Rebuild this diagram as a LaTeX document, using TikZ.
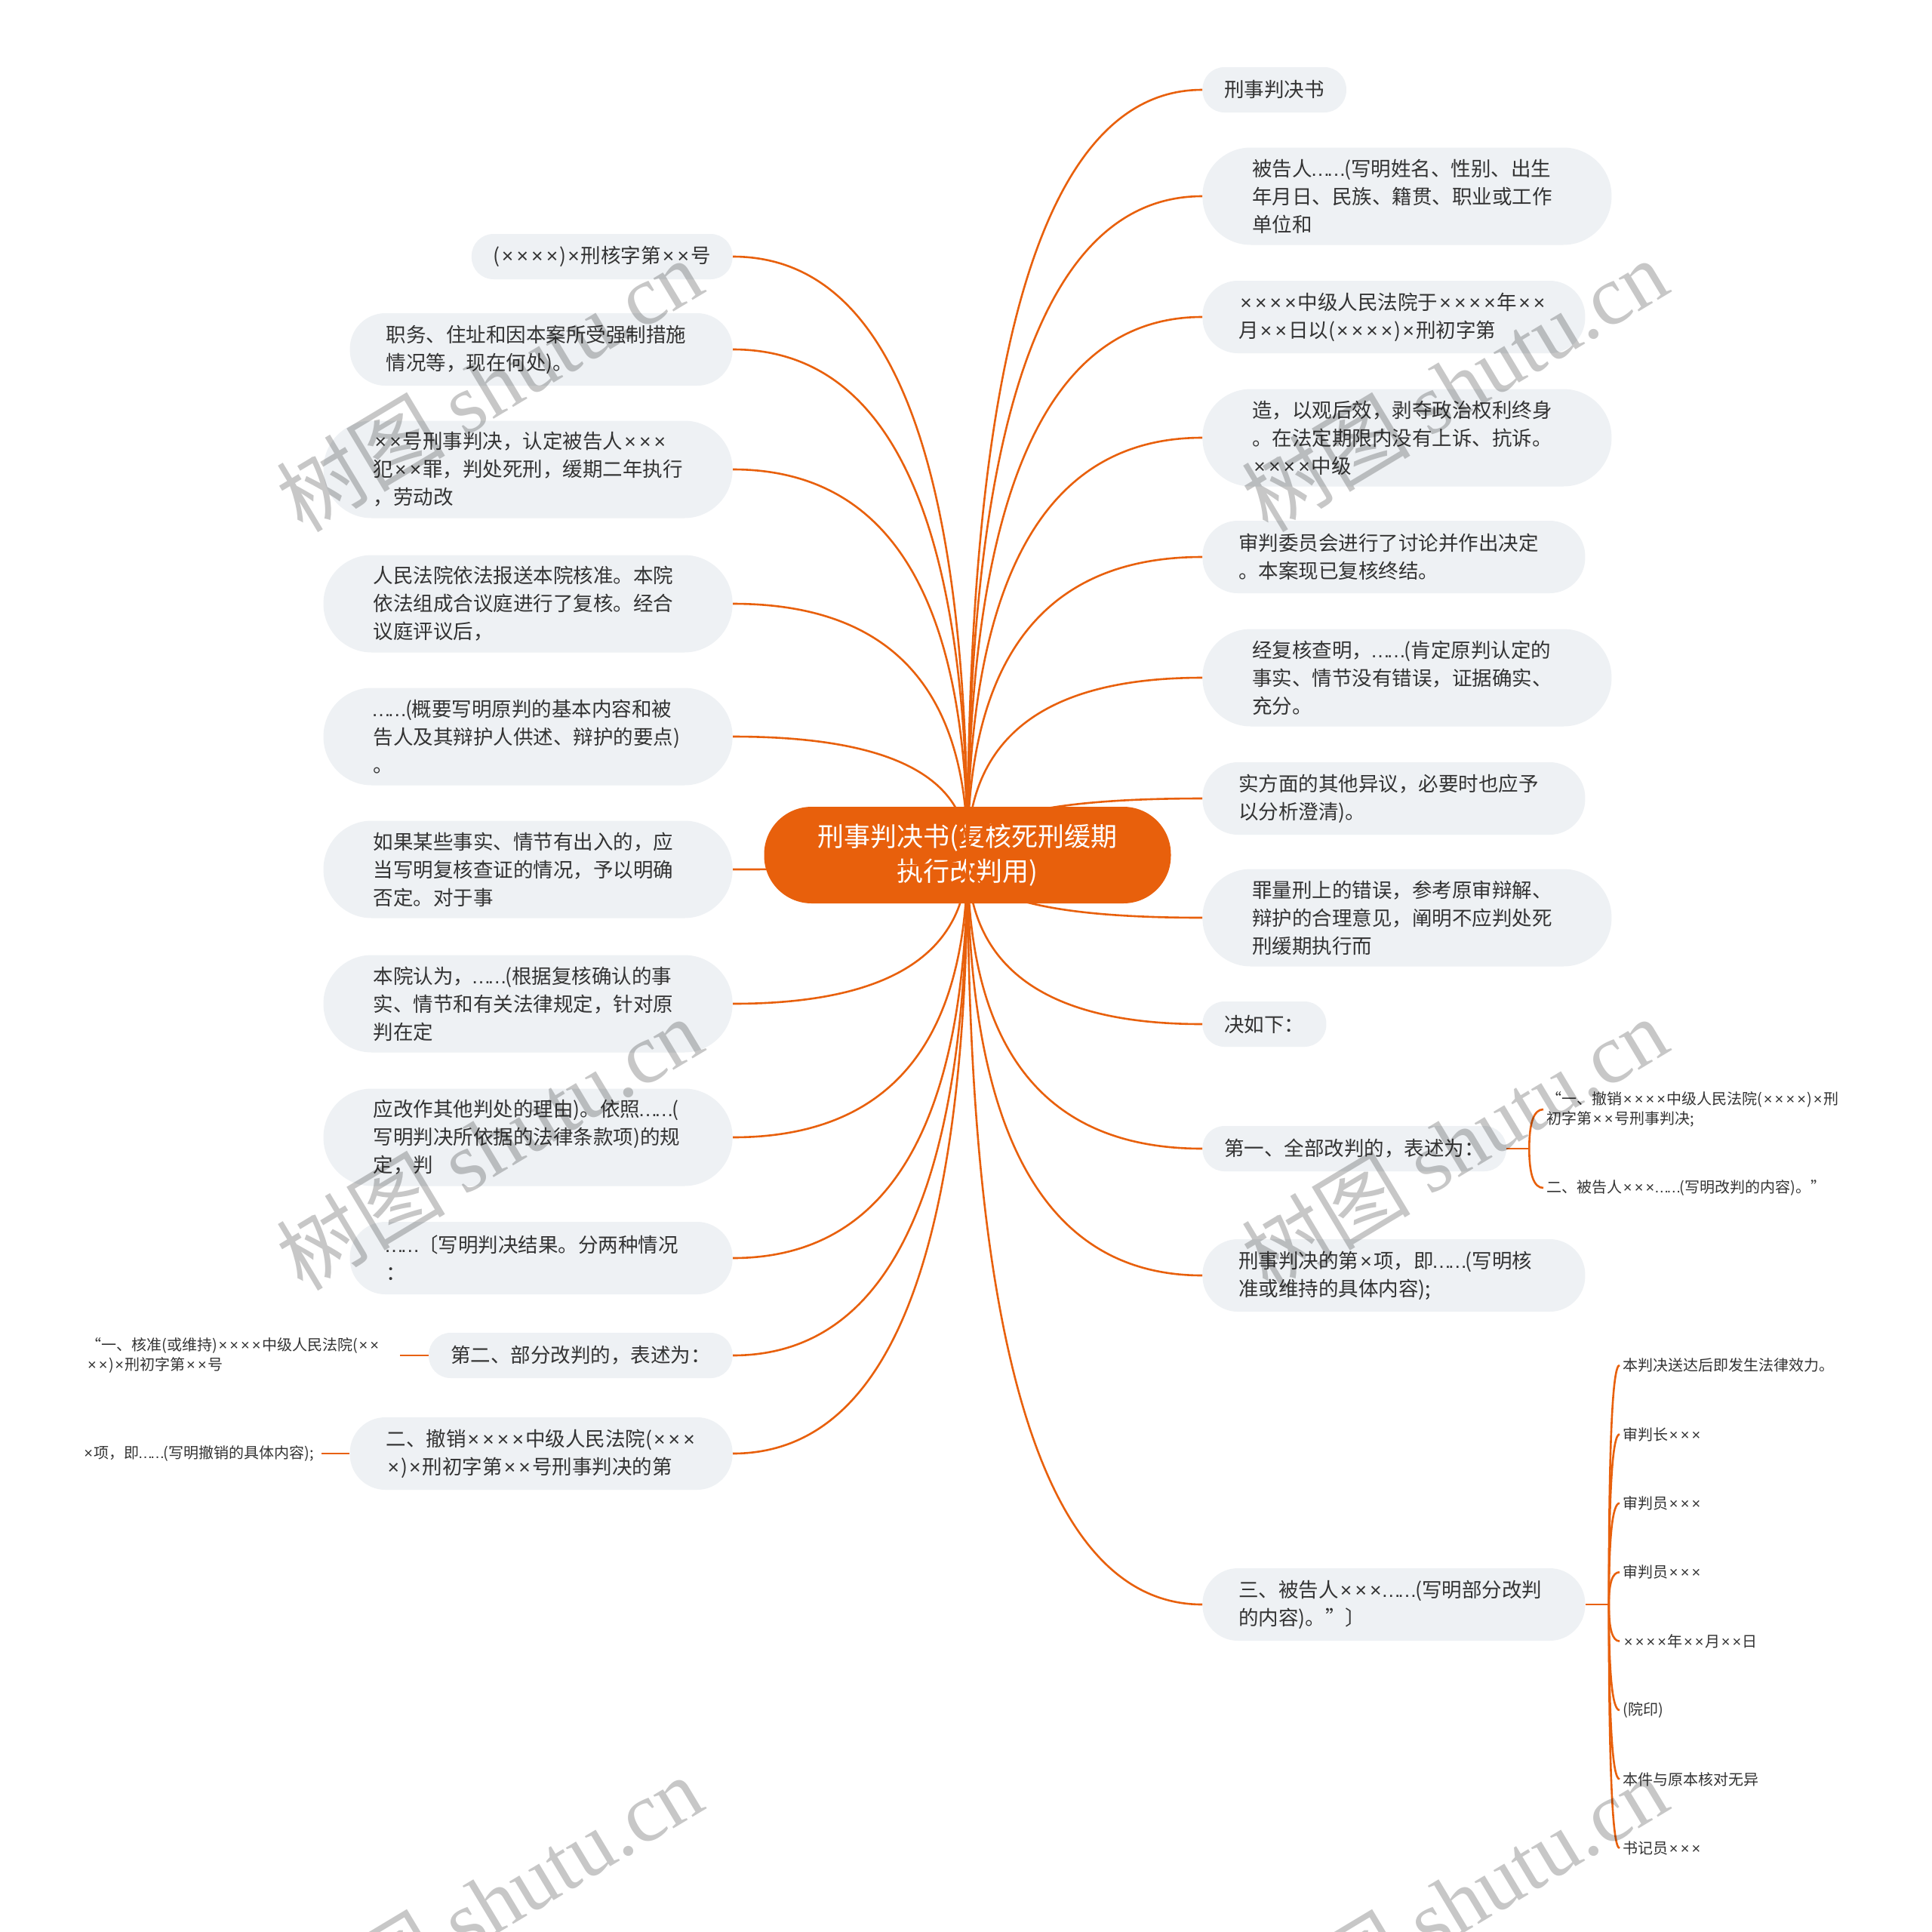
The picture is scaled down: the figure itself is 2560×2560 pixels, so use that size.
\documentclass[tikz,border=0pt]{standalone}
\usepackage{fontspec}
\setmainfont{Noto Sans CJK SC}
\newfontfamily\wmfont{Liberation Serif}
\newfontfamily\xfont{Liberation Sans}
\usepackage{newunicodechar}
\newunicodechar{×}{\makebox[0.74em]{\xfont\symbol{"D7}}}
\newunicodechar{…}{\makebox[0.8em]{\xfont\symbol{"2026}}}
\usepackage{xcolor}
\usepackage{tikz}
\usetikzlibrary{calc}
\definecolor{mainorange}{HTML}{E8600C}
\definecolor{topicfill}{HTML}{EEF1F4}
\definecolor{textgray}{HTML}{333333}

\begin{document}
\begin{tikzpicture}[x=0.5pt, y=-0.5pt,
    branch/.style={draw=mainorange, line width=1.3pt},
    root/.style={rectangle, fill=mainorange, text=white, align=center, minimum width=269.5pt, minimum height=64pt, rounded corners=31.5pt, font=\fontsize{17.5}{23}\selectfont},
    topic/.style={rectangle, fill=topicfill, text=textgray, align=left, inner ysep=0pt, font=\fontsize{13.25}{18.5}\selectfont},
    oneline/.style={topic, minimum height=30pt, rounded corners=14.5pt, inner xsep=14.5pt},
    twoline/.style={topic, minimum height=48pt, rounded corners=23.5pt, inner xsep=24pt, text width=205.5pt},
    threeline/.style={topic, minimum height=64.5pt, rounded corners=32pt, inner xsep=33pt, text width=205pt},
    leaf/.style={text=textgray, align=left, inner xsep=2pt, inner ysep=0pt, font=\fontsize{10}{13}\selectfont},
    watermark/.style={text=black, text opacity=0.22, rotate=31, font=\fontsize{56}{60}\selectfont}]
    \fill[white] (0,0) rectangle (2560,2560);
    \useasboundingbox (0,0) rectangle (2560,2560);

    \node[root] (root) at (1282,1133) {刑事判决书(复核死刑缓期\\执行改判用)};

    \node[oneline, anchor=west] (r1) at (1593,119) {刑事判决书};
    \node[threeline, anchor=west] (r2) at (1593,260) {被告人……(写明姓名、性别、出生\\年月日、民族、籍贯、职业或工作\\单位和};
    \node[twoline, anchor=west] (r3) at (1593,420) {××××中级人民法院于××××年××\\月××日以(××××)×刑初字第};
    \node[threeline, anchor=west] (r4) at (1593,580) {造，以观后效，剥夺政治权利终身\\。在法定期限内没有上诉、抗诉。\\××××中级};
    \node[twoline, anchor=west] (r5) at (1593,738) {审判委员会进行了讨论并作出决定\\。本案现已复核终结。};
    \node[threeline, anchor=west] (r6) at (1593,898) {经复核查明，……(肯定原判认定的\\事实、情节没有错误，证据确实、\\充分。};
    \node[twoline, anchor=west] (r7) at (1593,1058) {实方面的其他异议，必要时也应予\\以分析澄清)。};
    \node[threeline, anchor=west] (r8) at (1593,1216) {罪量刑上的错误，参考原审辩解、\\辩护的合理意见，阐明不应判处死\\刑缓期执行而};
    \node[oneline, anchor=west] (r9) at (1593,1357) {决如下：};
    \node[oneline, anchor=west] (r10) at (1593,1522) {第一、全部改判的，表述为：};
    \node[twoline, anchor=west] (r11) at (1593,1690) {刑事判决的第×项，即……(写明核\\准或维持的具体内容);};
    \node[twoline, anchor=west] (r12) at (1593,2126) {三、被告人×××……(写明部分改判\\的内容)。”〕};

    \node[oneline, anchor=east] (l1) at (971,340) {(××××)×刑核字第××号};
    \node[twoline, anchor=east] (l2) at (971,463) {职务、住址和因本案所受强制措施\\情况等，现在何处)。};
    \node[threeline, anchor=east] (l3) at (971,622) {××号刑事判决，认定被告人×××\\犯××罪，判处死刑，缓期二年执行\\，劳动改};
    \node[threeline, anchor=east] (l4) at (971,800) {人民法院依法报送本院核准。本院\\依法组成合议庭进行了复核。经合\\议庭评议后，};
    \node[threeline, anchor=east] (l5) at (971,976) {……(概要写明原判的基本内容和被\\告人及其辩护人供述、辩护的要点)\\。};
    \node[threeline, anchor=east] (l6) at (971,1152) {如果某些事实、情节有出入的，应\\当写明复核查证的情况，予以明确\\否定。对于事};
    \node[threeline, anchor=east] (l7) at (971,1330) {本院认为，……(根据复核确认的事\\实、情节和有关法律规定，针对原\\判在定};
    \node[threeline, anchor=east] (l8) at (971,1507) {应改作其他判处的理由)。依照……(\\写明判决所依据的法律条款项)的规\\定，判};
    \node[twoline, anchor=east] (l9) at (971,1667) {……〔写明判决结果。分两种情况\\：};
    \node[oneline, anchor=east] (l10) at (971,1796) {第二、部分改判的，表述为：};
    \node[twoline, anchor=east] (l11) at (971,1926) {二、撤销××××中级人民法院(×××\\×)×刑初字第××号刑事判决的第};

    \foreach \i in {1,...,12}{
        \coordinate (k) at (root.center |- r\i.west);
        \draw[branch] (root.center) .. controls ($(root.center)!0.667!(k)$) and ($(r\i.west)!0.667!(k)$) .. (r\i.west);
    }
    \foreach \i in {1,...,11}{
        \coordinate (k) at (root.center |- l\i.east);
        \draw[branch] (root.center) .. controls ($(root.center)!0.667!(k)$) and ($(l\i.east)!0.667!(k)$) .. (l\i.east);
    }

    \coordinate (j1) at ($(r10.east)+(30,0)$);
    \node[leaf, anchor=west] (s1) at (2045,1470) {“一、撤销××××中级人民法院(××××)×刑\\初字第××号刑事判决;};
    \node[leaf, anchor=west] (s2) at (2045,1574) {二、被告人×××……(写明改判的内容)。”};
    \draw[branch] (r10.east) -- (j1);
    \foreach \s in {s1,s2}{
        \coordinate (k) at (j1 |- \s.west);
        \draw[branch] (j1) .. controls ($(j1)!0.667!(k)$) and ($(\s.west)!0.667!(k)$) .. (\s.west);
    }

    \coordinate (j2) at ($(r12.east)+(31,0)$);
    \draw[branch] (r12.east) -- (j2);
    \foreach \i/\txt in {1/本判决送达后即发生法律效力。, 2/审判长×××, 3/审判员×××, 4/审判员×××, 5/××××年××月××日, 6/(院印), 7/本件与原本核对无异, 8/书记员×××}{
        \node[leaf, anchor=west] (t\i) at (2146,{1809+(\i-1)*91.4}) {\txt};
        \coordinate (k) at (j2 |- t\i.west);
        \draw[branch] (j2) .. controls ($(j2)!0.667!(k)$) and ($(t\i.west)!0.667!(k)$) .. (t\i.west);
    }

    \node[leaf, anchor=east, inner xsep=13pt] (u1) at (530,1796) {“一、核准(或维持)××××中级人民法院(××\\××)×刑初字第××号};
    \node[leaf, anchor=east, inner xsep=5pt] (u2) at (426,1926) {×项，即……(写明撤销的具体内容);};
    \draw[branch] (l10.west) -- (u1.east);
    \draw[branch] (l11.west) -- (u2.east);

    \foreach \wx/\wy [count=\w] in {648/510, 1927/510, 648/1515, 1927/1515, 648/2520, 1927/2520}
        \node[watermark] (w\w) at (\wx,\wy) {树图 {\wmfont shutu.cn}};
\end{tikzpicture}
\end{document}
